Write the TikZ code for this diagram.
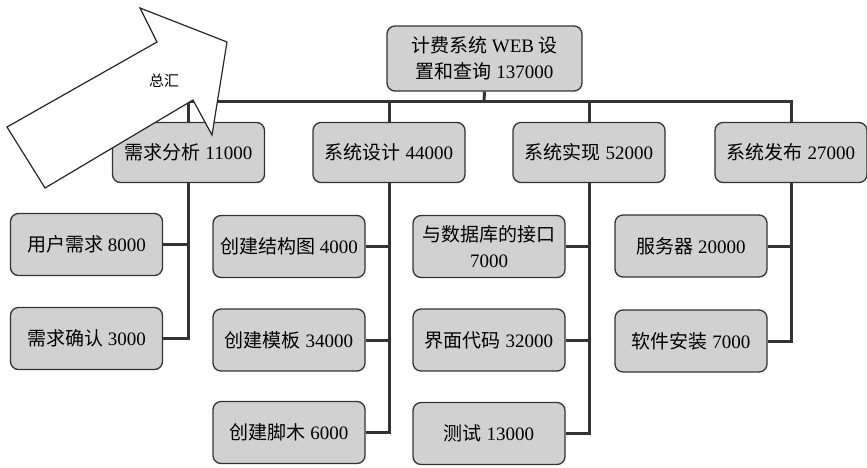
\documentclass[tikz,border=0pt]{standalone}
\usepackage{fontspec}
\setmainfont{Liberation Serif}
\newfontfamily\cjk{Noto Sans CJK SC}
\begin{document}
\begin{tikzpicture}[x=1pt,y=-1pt,
		box/.style={draw=black!80,line width=1.3pt,fill=black!18,rounded corners=8pt,
			minimum width=152pt,minimum height=62pt,inner sep=0pt,align=center,
			font=\fontsize{19}{26}\selectfont},
		link/.style={draw=black!80,line width=3pt}]
		\useasboundingbox (0,0) rectangle (867,467);
		\node[box,minimum width=195pt,minimum height=65pt] (root) at (484.5,58.5) {{\cjk 计费系统} WEB {\cjk 设}\\{\cjk 置和查询} 137000};
		\node[box,minimum height=60pt] (xqfx) at (188.5,152.5) {{\cjk 需求分析} 11000};
		\node[box,minimum height=60pt] (xtsj) at (389,152.5) {{\cjk 系统设计} 44000};
		\node[box,minimum height=60pt] (xtsx) at (589,152.5) {{\cjk 系统实现} 52000};
		\node[box,minimum height=60pt] (xtfb) at (791,152.5) {{\cjk 系统发布} 27000};
		\node[box] (yhxq) at (86.5,244.5) {{\cjk 用户需求} 8000};
		\node[box] (xqqr) at (86.5,338.5) {{\cjk 需求确认} 3000};
		\node[box] (jgt) at (289,246.5) {{\cjk 创建结构图} 4000};
		\node[box] (mb) at (289,340) {{\cjk 创建模板} 34000};
		\node[box] (jb) at (289,432.5) {{\cjk 创建脚木} 6000};
		\node[box] (jk) at (489,246.5) {{\cjk 与数据库的接口}\\7000};
		\node[box] (jmdm) at (489,340) {{\cjk 界面代码} 32000};
		\node[box] (cs) at (489,433.5) {{\cjk 测试} 13000};
		\node[box] (fwq) at (691,246) {{\cjk 服务器} 20000};
		\node[box] (rjaz) at (691,341) {{\cjk 软件安装} 7000};
		% bus under the root
		\coordinate (bus) at (484,101);
		\draw[link] (root.south) -- (bus);
		\draw[link] (xqfx.north) -- (xqfx.north |- bus) -- (xtfb.north |- bus) -- (xtfb.north);
		\draw[link] (xtsj.north) -- (xtsj.north |- bus);
		\draw[link] (xtsx.north) -- (xtsx.north |- bus);
		% columns
		\draw[link] (xqfx.south) |- (xqqr.east);
		\draw[link] (yhxq.east) -- (yhxq.east -| xqfx.south);
		\draw[link] (xtsj.south) |- (jb.east);
		\draw[link] (jgt.east) -- (jgt.east -| xtsj.south);
		\draw[link] (mb.east) -- (mb.east -| xtsj.south);
		\draw[link] (xtsx.south) |- (cs.east);
		\draw[link] (jk.east) -- (jk.east -| xtsx.south);
		\draw[link] (jmdm.east) -- (jmdm.east -| xtsx.south);
		\draw[link] (xtfb.south) |- (rjaz.east);
		\draw[link] (fwq.east) -- (fwq.east -| xtfb.south);
		% the big arrow
		\draw[line width=1.2pt,draw=black!85,fill=white] (7,127) -- (157,42) -- (140,8) -- (227,42)
			-- (212,135) -- (193,100) -- (45,188) -- cycle;
		\node[font=\cjk\fontsize{15}{18}\selectfont] (zh) at (164,81) {总汇};
	\end{tikzpicture}
\end{document}
